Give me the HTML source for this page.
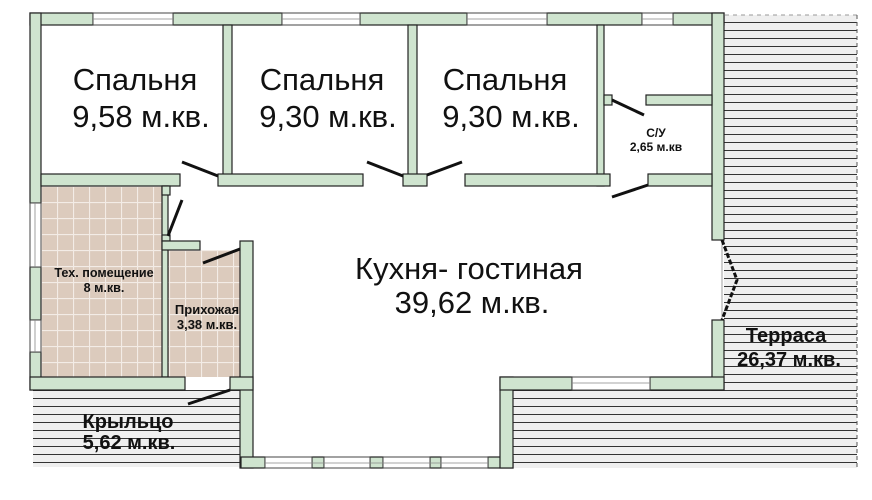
<!DOCTYPE html>
<html><head><meta charset="utf-8"><style>
html,body{margin:0;padding:0;background:#fff;}
svg{display:block;}
</style></head><body>
<svg width="872" height="500" viewBox="0 0 872 500" xmlns="http://www.w3.org/2000/svg">
<defs>
<pattern id="tile" x="41" y="186" width="16" height="16" patternUnits="userSpaceOnUse">
<rect width="16" height="16" fill="#dccbbd"/>
<path d="M0 0.5H16M0.5 0V16" stroke="#f3ece6" stroke-width="1.2"/>
</pattern>
<pattern id="deck" x="0" y="15" width="10" height="8" patternUnits="userSpaceOnUse">
<rect width="10" height="8" fill="#efefef"/>
<line x1="0" y1="7.5" x2="10" y2="7.5" stroke="#333" stroke-width="1"/>
</pattern>
</defs>
<rect width="872" height="500" fill="#fff"/>
<rect x="724" y="15" width="133" height="453" fill="url(#deck)"/>
<rect x="513" y="390" width="211" height="78" fill="url(#deck)"/>
<line x1="725" y1="15" x2="857" y2="15" stroke="#999" stroke-dasharray="4,4"/>
<line x1="857" y1="15" x2="857" y2="468" stroke="#555" stroke-dasharray="4,3"/>
<rect x="33" y="390" width="208" height="77" fill="url(#deck)"/>
<rect x="41" y="186" width="121" height="191" fill="url(#tile)"/>
<rect x="168" y="250" width="72" height="127" fill="url(#tile)"/>
<g fill="#cfe4cf" stroke="#222" stroke-width="1.2">
<rect x="30" y="13" width="63" height="12"/>
<rect x="173" y="13" width="109" height="12"/>
<rect x="360" y="13" width="107" height="12"/>
<rect x="547" y="13" width="95" height="12"/>
<rect x="673" y="13" width="51" height="12"/>
<rect x="30" y="13" width="11" height="190"/>
<rect x="30" y="267" width="11" height="53"/>
<rect x="30" y="352" width="11" height="38"/>
<rect x="712" y="13" width="12" height="227"/>
<rect x="712" y="320" width="12" height="70"/>
<rect x="223" y="25" width="9" height="160"/>
<rect x="408" y="25" width="9" height="160"/>
<rect x="597" y="25" width="7" height="161"/>
<rect x="604" y="95" width="8" height="10"/>
<rect x="646" y="95" width="66" height="10"/>
<rect x="41" y="174" width="139" height="12"/>
<rect x="218" y="174" width="145" height="12"/>
<rect x="403" y="174" width="24" height="12"/>
<rect x="465" y="174" width="145" height="12"/>
<rect x="648" y="174" width="64" height="12"/>
<rect x="162" y="186" width="6" height="191"/>
<rect x="162" y="186" width="8" height="9"/>
<rect x="162" y="235" width="8" height="6"/>
<rect x="162" y="241" width="38" height="9"/>
<rect x="240" y="241" width="13" height="227"/>
<rect x="30" y="377" width="155" height="13"/>
<rect x="230" y="377" width="23" height="13"/>
<rect x="241" y="457" width="24" height="11"/>
<rect x="312" y="457" width="12" height="11"/>
<rect x="370" y="457" width="13" height="11"/>
<rect x="430" y="457" width="11" height="11"/>
<rect x="488" y="457" width="25" height="11"/>
<rect x="500" y="377" width="13" height="91"/>
<rect x="500" y="377" width="72" height="13"/>
<rect x="650" y="377" width="74" height="13"/>
</g>
<g fill="#fff" stroke="#444" stroke-width="1">
<rect x="93" y="13" width="80" height="12"/><rect x="282" y="13" width="78" height="12"/>
<rect x="467" y="13" width="80" height="12"/><rect x="642" y="13" width="31" height="12"/>
<rect x="30" y="203" width="11" height="64"/><rect x="30" y="320" width="11" height="32"/>
<rect x="572" y="377" width="78" height="13"/>
<rect x="265" y="457" width="47" height="11"/><rect x="324" y="457" width="46" height="11"/>
<rect x="383" y="457" width="47" height="11"/><rect x="441" y="457" width="47" height="11"/>
</g>
<g stroke="#888" stroke-width="0.8">
<line x1="93" y1="19" x2="173" y2="19"/><line x1="282" y1="19" x2="360" y2="19"/>
<line x1="467" y1="19" x2="547" y2="19"/><line x1="642" y1="19" x2="673" y2="19"/>
<line x1="35" y1="203" x2="35" y2="267"/><line x1="35" y1="320" x2="35" y2="352"/>
<line x1="572" y1="383" x2="650" y2="383"/>
<line x1="265" y1="463" x2="488" y2="463"/>
<line x1="722" y1="240" x2="722" y2="320"/>
</g>
<g stroke="#111" stroke-width="3" stroke-linecap="butt">
<line x1="182" y1="162" x2="218" y2="176"/>
<line x1="367" y1="162" x2="403" y2="176"/>
<line x1="427" y1="175" x2="462" y2="162"/>
<line x1="612" y1="100" x2="644" y2="115"/>
<line x1="612" y1="197" x2="648" y2="185"/>
<line x1="182" y1="200" x2="168" y2="236"/>
<line x1="203" y1="263" x2="240" y2="249"/>
<line x1="188" y1="404" x2="230" y2="390"/>
<polyline points="722,240 737,280 722,320" fill="none" stroke-dasharray="5,2"/>
</g>
<g font-family="Liberation Sans, sans-serif" fill="#111" text-anchor="middle">
<text x="135" y="90" font-size="31">Спальня</text>
<text x="141" y="127" font-size="31">9,58 м.кв.</text>
<text x="322" y="90" font-size="31">Спальня</text>
<text x="328" y="127" font-size="31">9,30 м.кв.</text>
<text x="505" y="90" font-size="31">Спальня</text>
<text x="511" y="127" font-size="31">9,30 м.кв.</text>
<text x="469" y="279" font-size="31">Кухня- гостиная</text>
<text x="472" y="313" font-size="31">39,62 м.кв.</text>
<g font-weight="bold">
<text x="656" y="137" font-size="12">С/У</text>
<text x="656" y="151" font-size="12">2,65 м.кв</text>
<text x="104" y="277" font-size="12.6">Тех. помещение</text>
<text x="104" y="292" font-size="12.6">8 м.кв.</text>
<text x="207" y="314" font-size="13">Прихожая</text>
<text x="207" y="329" font-size="13">3,38 м.кв.</text>
<text x="786" y="342" font-size="20">Терраса</text>
<text x="789" y="366" font-size="20">26,37 м.кв.</text>
<text x="128" y="428" font-size="20">Крыльцо</text>
<text x="129" y="449" font-size="20">5,62 м.кв.</text>
</g>
</g>
</svg>
</body></html>
